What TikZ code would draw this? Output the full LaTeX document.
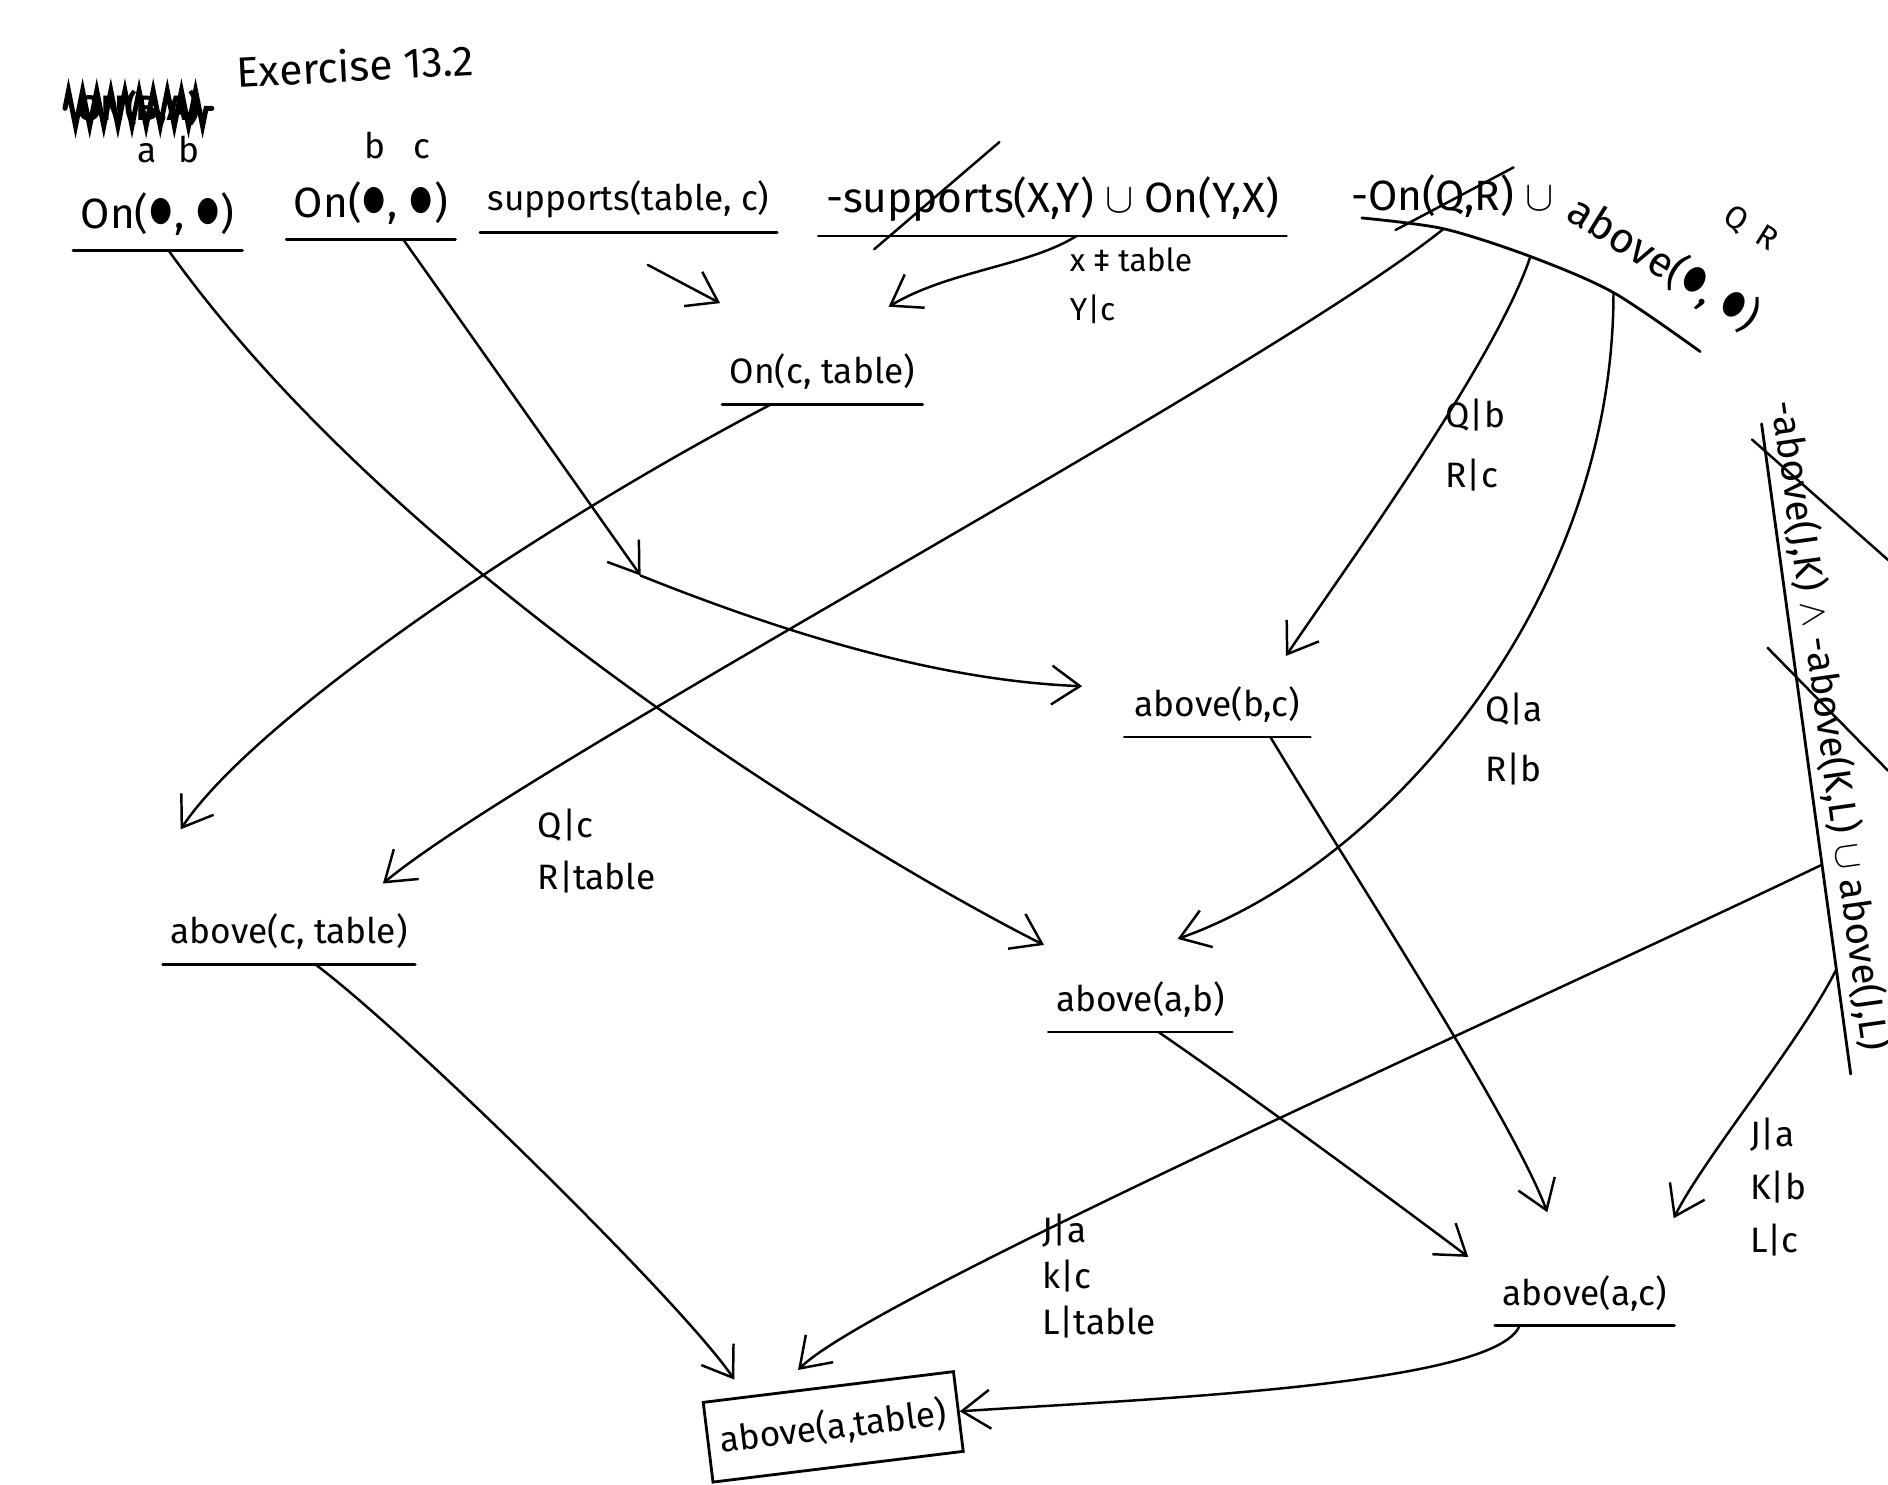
\documentclass[tikz,border=0pt]{standalone}
\usepackage{fontspec}
\setmainfont{Fira Sans}
\usepackage{amsmath,amssymb}
\usetikzlibrary{arrows.meta,calc,decorations.pathmorphing}
\tikzstyle{fact} = [anchor=south, inner xsep=2pt, inner ysep=4pt, font=\normalsize]
\tikzstyle{goal} = [draw, line width=0.8pt, font=\normalsize, minimum width=2.4cm,
                    minimum height=0.8cm, rotate=7]
\tikzstyle{rule} = [line width=0.8pt]
\tikzstyle{strike} = [line width=0.7pt]
\tikzstyle{arrow} = [line width=0.7pt, -{Straight Barb[length=8pt,width=11pt]}]
\tikzstyle{subst} = [anchor=north west, align=left, inner sep=1pt, font=\normalsize]
\tikzstyle{scribble} = [decorate, decoration={zigzag, segment length=4pt, amplitude=5pt},
                        line width=1.4pt]
\newcommand{\inkblot}{\scalebox{1.2}[1.6]{$\bullet$}}
\begin{document}
\begin{tikzpicture}[x=0.012cm, y=-0.012cm, line cap=round]
\useasboundingbox (0,0) rectangle (1568,1233);

% heading
\node[font=\large, rotate=3] (title) at (295,54) {Exercise 13.2};
\node[font=\normalsize\bfseries] (scrib) at (115,90) {ON(B,A)};
\draw[scribble] (scrib.west) -- (scrib.east);

% clauses of the knowledge base
\node[fact, font=\large, minimum width=1.65cm] (n1) at (131,208) {On(\inkblot, \inkblot)};
\node[font=\normalsize] (v1) at (140,124) {a\hspace{0.6em}b};
\node[fact, font=\large, minimum width=1.53cm] (n2) at (308,199) {On(\inkblot, \inkblot)};
\node[font=\normalsize] (v2) at (330,121) {b\hspace{0.8em}c};
\node[fact, minimum width=2.58cm] (n3) at (522,193) {supports(table, c)};
\node[fact, font=\large, minimum width=4.1cm] (n4) at (874,196) {-supports(X,Y) $\cup$ On(Y,X)};
\node[subst, font=\small] (s4) at (885,202) {x ‡ table\\[3pt]Y|c};

% -On(Q,R) or above(Q,R)
\node[font=\large] (n5a) at (1206,163) {-On(Q,R) $\cup$};
\node[font=\large, rotate=-32] (n5b) at (1382,219) {above(\inkblot, \inkblot)};
\node[font=\small, rotate=-32] (v5) at (1454,190) {Q\hspace{0.5em}R};
\draw[rule] plot[smooth] coordinates {(1131,181) (1199,190) (1271,213) (1340,243) (1412,292)};
\coordinate (q1) at (1199,190);
\coordinate (q2) at (1271,213);
\coordinate (q3) at (1340,243);

% -above(J,K) and -above(K,L) or above(J,L)
\coordinate (u7a) at (1463,352);
\coordinate (u7b) at (1537,892);
\node[anchor=south, rotate=-82, inner sep=2pt, font=\fontsize{11}{13}\selectfont] (n7)
     at ($(u7a)!0.47!(u7b)$)
     {-above(J,K) $\wedge$ -above(K,L) $\cup$ above(J,L)};
\draw[rule] (u7a) -- (u7b);
\coordinate (j1) at ($(u7a)!0.678!(u7b)$);
\coordinate (j2) at ($(u7a)!0.839!(u7b)$);

% derived facts
\node[fact, minimum width=1.74cm] (n6) at (683,336) {On(c, table)};
\node[fact, minimum width=1.84cm] (n8) at (1011,612) {above(b,c)};
\node[fact, minimum width=2.16cm] (n9) at (240,801) {above(c, table)};
\node[fact, minimum width=1.7cm] (n10) at (947,857) {above(a,b)};
\node[fact, minimum width=1.72cm] (n11) at (1316,1101) {above(a,c)};
\node[goal] (n12) at (692,1185) {above(a,table)};

% underlines
\draw[rule] (n1.south west) -- (n1.south east);
\draw[rule] (n2.south west) -- (n2.south east);
\draw[rule] (n3.south west) -- (n3.south east);
\draw[rule] (n4.south west) -- (n4.south east);
\draw[rule] (n6.south west) -- (n6.south east);
\draw[rule] (n8.south west) -- (n8.south east);
\draw[rule] (n9.south west) -- (n9.south east);
\draw[rule] (n10.south west) -- (n10.south east);
\draw[rule] (n11.south west) -- (n11.south east);

% cancelled literals
\draw[strike] (726,207) -- (830,118);
\draw[strike] (1159,191) -- (1257,139);
\draw[strike] (1455,365) -- (1568,465);
\draw[strike] (1468,538) -- (1568,640);

% substitutions
\node[subst] (s5) at (1197,328) {Q|b\\[5pt]R|c};
\node[subst] (s6) at (1230,572) {Q|a\\[5pt]R|b};
\node[subst] (s7) at (443,668) {Q|c\\[3pt]R|table};
\node[subst] (s8) at (862,1005) {J|a\\[1pt]k|c\\[1pt]L|table};
\node[subst] (s9) at (1450,925) {J|a\\[3pt]K|b\\[3pt]L|c};

% resolution steps
\draw[arrow] ([shift={(16,27)}]n3.south) -- ([shift={(-85,-30)}]n6.north);
\draw[arrow] ([shift={(20,0)}]n4.south) .. controls +(-40,25) and +(50,-30) .. ([shift={(55,-27)}]n6.north);
\draw[arrow] ([shift={(9,0)}]n1.south) .. controls +(200,280) and +(-120,-60) .. ([shift={(-80,-18)}]n10.north);
\coordinate (jb) at (532,478);
\draw[arrow] ([shift={(27,0)}]n2.south) -- (jb);
\draw[arrow] (jb) .. controls +(100,40) and +(-130,-5) .. ([shift={(-35,-15)}]n8.west);
\draw[arrow] ([shift={(-43,0)}]n6.south) .. controls +(-200,105) and +(60,-90) .. ([shift={(-90,-58)}]n9.north);
\draw[arrow] (q1) .. controls +(-150,120) and +(120,-100) .. ([shift={(78,-13)}]n9.north);
\draw[arrow] (q2) .. controls +(-30,90) and +(40,-60) .. ([shift={(57,-13)}]n8.north);
\draw[arrow] (q3) .. controls +(0,260) and +(170,-60) .. ([shift={(31,-23)}]n10.north);
\draw[arrow] ([shift={(44,0)}]n8.south) .. controls +(60,100) and +(-30,-80) .. ([shift={(-31,-40)}]n11.north);
\draw[arrow] ([shift={(15,0)}]n10.south) .. controls +(80,55) and +(-60,-45) .. ([shift={(-22,-30)}]n11.west);
\draw[arrow] ([shift={(22,0)}]n9.south) .. controls +(80,60) and +(-40,-60) .. ([shift={(-78,-5)}]n12.north);
\draw[arrow] (j1) .. controls +(-250,120) and +(60,-60) .. ([shift={(-25,-13)}]n12.north);
\draw[arrow] (j2) .. controls +(-30,60) and +(25,-50) .. ([shift={(74,-35)}]n11.north);
\draw[arrow] ([shift={(-54,0)}]n11.south) .. controls +(-20,50) and +(150,-10) .. (n12.east);
\end{tikzpicture}
\end{document}
